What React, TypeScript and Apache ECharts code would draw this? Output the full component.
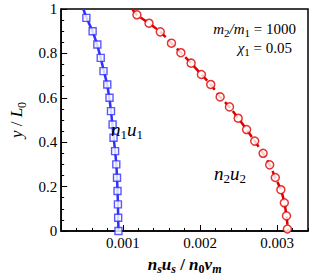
import React, { useEffect, useRef } from 'react';
import * as echarts from 'echarts';

// n1u1 (blue squares)
const n1u1Y = [0, 0.06, 0.12, 0.18, 0.24, 0.3, 0.36, 0.42, 0.48, 0.54, 0.6, 0.66, 0.72, 0.78, 0.84, 0.9, 0.96];
const n1u1X = [0.000943, 0.000939, 0.000936, 0.000931, 0.000924, 0.000915, 0.000899, 0.000879, 0.000867, 0.000846, 0.000827, 0.000798, 0.000749, 0.000713, 0.000669, 0.000608, 0.000527];
// curve for n1u1 (solid line)
const n1u1CurveY = [0, 0.06, 0.12, 0.18, 0.24, 0.3, 0.36, 0.42, 0.48, 0.54, 0.6, 0.66, 0.72, 0.78, 0.84, 0.9, 0.96, 1.0];
const n1u1CurveX = [0.000943, 0.000939, 0.000936, 0.000931, 0.000924, 0.000915, 0.000899, 0.000881, 0.000864, 0.000846, 0.000824, 0.000796, 0.000754, 0.000712, 0.000666, 0.000606, 0.00053, 0.000487];

// n2u2 (red circles)
const n2u2Y = [0.974, 0.936, 0.897, 0.846, 0.803, 0.756, 0.705, 0.66, 0.604, 0.559, 0.508, 0.457, 0.405, 0.35, 0.298, 0.241, 0.186, 0.127, 0.068, 0.009];
const n2u2X = [0.001182, 0.001339, 0.001485, 0.00163, 0.001752, 0.001885, 0.002018, 0.002139, 0.002261, 0.002382, 0.002495, 0.002604, 0.002709, 0.002818, 0.002903, 0.002976, 0.003048, 0.003093, 0.003121, 0.003133];
// curve for n2u2 (dashed line)
const n2u2CurveY = [1.0, 0.974, 0.936, 0.897, 0.846, 0.803, 0.756, 0.705, 0.66, 0.604, 0.559, 0.508, 0.457, 0.405, 0.35, 0.298, 0.241, 0.186, 0.127, 0.068, 0.0];
const n2u2CurveX = [0.001121, 0.001182, 0.001339, 0.001485, 0.00163, 0.001752, 0.001885, 0.002018, 0.002139, 0.002261, 0.002382, 0.002495, 0.002604, 0.002709, 0.002818, 0.002903, 0.002976, 0.003048, 0.003093, 0.003121, 0.003142];

const xMajorTicks = [0.001, 0.002, 0.003];
const xMinorTicks = [0.0002, 0.0004, 0.0006, 0.0008, 0.0012, 0.0014, 0.0016, 0.0018, 0.0022, 0.0024, 0.0026, 0.0028, 0.0032, 0.0034];

const SERIF = "'Liberation Serif', 'Times New Roman', serif";
const BLUE = '#3030ff';
const RED = '#dd0000';

const zip = (xs: number[], ys: number[]) => xs.map((x, i) => [x, ys[i]]);

const mathRich = (size: number, lh: number, bold = false) => {
  const sub = Math.round(size * 0.7);
  const w = bold ? 'bold' : 'normal';
  return {
    i: { fontFamily: SERIF, fontSize: size, fontStyle: 'italic', fontWeight: w, color: '#000', lineHeight: lh },
    r: { fontFamily: SERIF, fontSize: size, fontWeight: w, color: '#000', lineHeight: lh },
    s: { fontFamily: SERIF, fontSize: sub, fontWeight: w, color: '#000', lineHeight: sub, verticalAlign: 'bottom' },
    si: { fontFamily: SERIF, fontSize: sub, fontStyle: 'italic', fontWeight: w, color: '#000', lineHeight: sub, verticalAlign: 'bottom' },
  };
};

export default function App() {
  const ref = useRef<HTMLDivElement>(null);
  useEffect(() => {
    if (!ref.current) return;
    const chart = echarts.init(ref.current, undefined, { renderer: 'svg' });
    chart.setOption({
      animation: false,
      textStyle: { fontFamily: SERIF },
      grid: { left: 44, top: 9, right: 7, bottom: 37, show: true, borderColor: '#000', borderWidth: 1.5, backgroundColor: 'transparent' },
      xAxis: [
        {
          type: 'value', min: 0.0002, max: 0.0034,
          axisLine: { show: true, onZero: false, lineStyle: { color: '#000', width: 1.5 } },
          axisTick: { show: true, inside: true, length: 6, customValues: xMajorTicks, lineStyle: { color: '#000', width: 1 } },
          axisLabel: { customValues: xMajorTicks, color: '#000', fontFamily: SERIF, fontSize: 15, margin: 4 },
          splitLine: { show: false },
          name: '{i|n}{si|s}{i|u}{si|s}{r| / }{i|n}{s|0}{i|v}{si|m}', nameLocation: 'middle', nameGap: 22,
          nameTextStyle: { rich: mathRich(17, 22, true) },
        },
        {
          type: 'value', min: 0.0002, max: 0.0034, position: 'bottom',
          axisLine: { show: false, onZero: false },
          axisTick: { show: true, inside: true, length: 3, customValues: xMinorTicks, lineStyle: { color: '#000', width: 1 } },
          axisLabel: { show: false },
          splitLine: { show: false },
        },
      ],
      yAxis: {
        type: 'value', min: 0, max: 1, interval: 0.2,
        axisLine: { show: true, onZero: false, lineStyle: { color: '#000', width: 1.5 } },
        axisTick: { show: true, inside: true, length: 6, lineStyle: { color: '#000', width: 1 } },
        minorTick: { show: true, splitNumber: 4, length: 3, lineStyle: { color: '#000', width: 1 } },
        axisLabel: { color: '#000', fontFamily: SERIF, fontSize: 15, margin: 4 },
        splitLine: { show: false },
        name: '{i|y}{r| / }{i|L}{s|0}', nameLocation: 'middle', nameGap: 27, nameRotate: 90,
        nameTextStyle: { rich: mathRich(17, 22) },
      },
      series: [
        {
          type: 'line', data: zip(n1u1CurveX, n1u1CurveY), showSymbol: false, smooth: 0.3,
          lineStyle: { color: BLUE, width: 2.5 }, z: 2,
        },
        {
          type: 'scatter', data: zip(n1u1X, n1u1Y), symbol: 'rect', symbolSize: 7,
          itemStyle: { color: '#fff', borderColor: BLUE, borderWidth: 1.4 }, z: 3,
        },
        {
          type: 'line', data: zip(n2u2CurveX, n2u2CurveY), showSymbol: false, smooth: 0.3,
          lineStyle: { color: RED, width: 2.5, type: [8, 4] }, z: 2,
        },
        {
          type: 'scatter', data: zip(n2u2X, n2u2Y), symbol: 'circle', symbolSize: 8,
          itemStyle: { color: '#fff', borderColor: RED, borderWidth: 1.5 }, z: 3,
        },
      ],
      graphic: [
        {
          type: 'text', x: 296, y: 29, z: 10,
          style: {
            text: '{i|m}{s|2}{i|/m}{s|1}{r| = 1000}', align: 'right', verticalAlign: 'middle',
            rich: mathRich(15, 19),
          },
        },
        {
          type: 'text', x: 292, y: 48, z: 10,
          style: {
            text: '{i|χ}{s|1}{r| = 0.05}', align: 'right', verticalAlign: 'middle',
            rich: mathRich(15, 19),
          },
        },
        {
          type: 'text', x: 111, y: 129, z: 10,
          style: { text: '{i|n}{s|1}{i|u}{s|1}', align: 'left', verticalAlign: 'middle', rich: mathRich(19, 24) },
        },
        {
          type: 'text', x: 214, y: 173, z: 10,
          style: { text: '{i|n}{s|2}{i|u}{s|2}', align: 'left', verticalAlign: 'middle', rich: mathRich(19, 24) },
        },
      ],
    });
    return () => chart.dispose();
  }, []);
  return <div ref={ref} style={{ width: 315, height: 280, position: 'absolute', left: 0, top: 0 }} />;
}
